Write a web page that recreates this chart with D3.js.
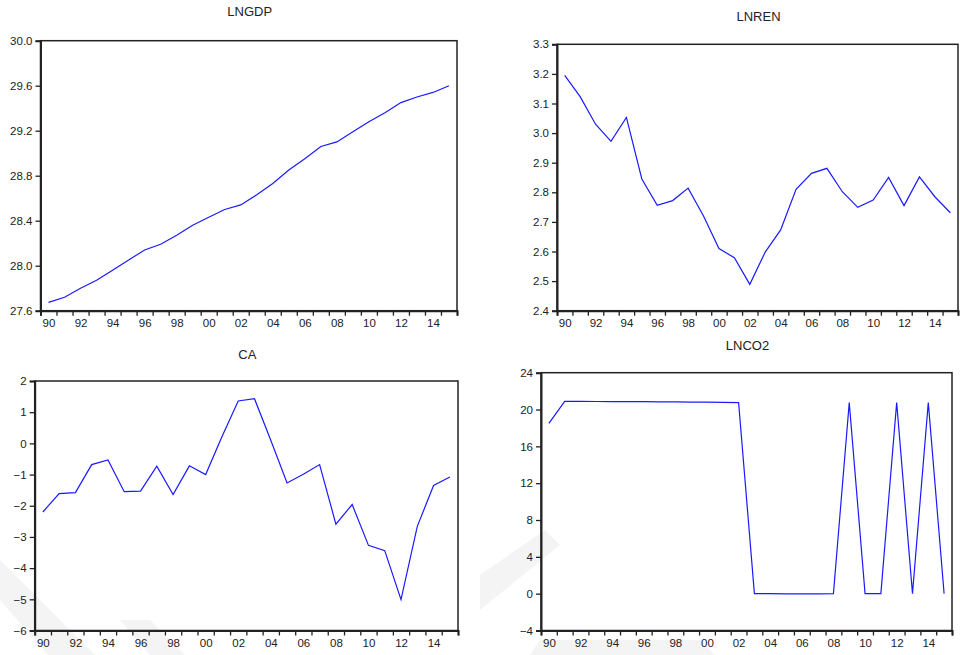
<!DOCTYPE html>
<html>
<head>
<meta charset="utf-8">
<script src="https://cdn.jsdelivr.net/npm/d3@7/dist/d3.min.js"></script>
<style>
  html, body { margin: 0; padding: 0; background: #fff; }
  svg { display: block; font-family: "Liberation Sans", Arial, sans-serif; }
</style>
</head>
<body>
<svg id="chart" width="960" height="655"></svg>
<script>
// Annual observations 1990–2015
const years = d3.range(1990, 2016);

const lngdp = [27.674, 27.72, 27.80, 27.87, 27.96, 28.05, 28.14, 28.19, 28.27, 28.36,
               28.43, 28.50, 28.54, 28.63, 28.73, 28.85, 28.95, 29.06, 29.10, 29.19,
               29.28, 29.36, 29.45, 29.50, 29.54, 29.60];

const lnren = [3.195, 3.123, 3.030, 2.972, 3.053, 2.845, 2.756, 2.772, 2.814, 2.720,
               2.610, 2.579, 2.489, 2.598, 2.673, 2.810, 2.864, 2.881, 2.802, 2.749,
               2.774, 2.850, 2.755, 2.852, 2.785, 2.731];

const ca = [-2.20, -1.61, -1.58, -0.68, -0.53, -1.55, -1.53, -0.73, -1.64, -0.72,
            -1.00, 0.21, 1.36, 1.43, 0.10, -1.27, -0.99, -0.68, -2.59, -1.96,
            -3.27, -3.44, -5.01, -2.66, -1.35, -1.08];

const lnco2 = [18.5, 20.89, 20.88, 20.87, 20.86, 20.86, 20.85, 20.84, 20.83, 20.81,
               20.80, 20.78, 20.76, 0.0, 0.0, -0.02, -0.03, -0.02, 0.0, 20.75,
               0.0, 0.0, 20.75, 0.0, 20.75, 0.0];

// Y tick values per panel
const ticksGDP = [27.6, 28.0, 28.4, 28.8, 29.2, 29.6, 30.0];
const ticksREN = [2.4, 2.5, 2.6, 2.7, 2.8, 2.9, 3.0, 3.1, 3.2, 3.3];
const ticksCA  = [-6, -5, -4, -3, -2, -1, 0, 1, 2];
const ticksCO2 = [-4, 0, 4, 8, 12, 16, 20, 24];

const panels = [
  { title: "LNGDP", values: lngdp, ticks: ticksGDP, fmt: d3.format(".1f"),
    x0: 40.5, x1: 457, y0: 40.7, y1: 310.7, titleY: 16 },
  { title: "LNREN", values: lnren, ticks: ticksREN, fmt: d3.format(".1f"),
    x0: 557, x1: 958, y0: 44.3, y1: 310.7, titleY: 21 },
  { title: "CA", values: ca, ticks: ticksCA, fmt: d3.format("d"),
    x0: 34.7, x1: 458, y0: 381, y1: 630.5, titleY: 359 },
  { title: "LNCO2", values: lnco2, ticks: ticksCO2, fmt: d3.format("d"),
    x0: 541, x1: 952, y0: 372.7, y1: 630.5, titleY: 350 }
];

const svg = d3.select("#chart");

// faint diagonal backdrop shapes along the lower edge
const shade = svg.append("g").attr("fill", "#f4f4f4");
[
  [[0, 560], [0, 600], [48, 655], [95, 655]],
  [[120, 620], [150, 620], [185, 655], [150, 655]],
  [[480, 575], [480, 610], [560, 545], [545, 530]],
  [[540, 640], [700, 640], [715, 655], [530, 655]]
].forEach(p => shade.append("polygon").attr("points", p.map(q => q.join(",")).join(" ")));

panels.forEach(p => {
  const g = svg.append("g");
  const x = d3.scaleLinear().domain([1989.5, 2015.5]).range([p.x0, p.x1]);
  const y = d3.scaleLinear().domain([p.ticks[0], p.ticks[p.ticks.length - 1]]).range([p.y1, p.y0]);

  // plot frame
  g.append("rect")
    .attr("x", p.x0).attr("y", p.y0)
    .attr("width", p.x1 - p.x0).attr("height", p.y1 - p.y0)
    .attr("fill", "none").attr("stroke", "#222").attr("stroke-width", 1.5);

  // year boundary ticks
  const edges = d3.range(1989.5, 2016, 1);
  g.append("g")
    .attr("transform", `translate(0,${p.y1})`)
    .call(d3.axisBottom(x).tickValues(edges).tickSize(5).tickFormat(""))
    .call(a => a.select(".domain").attr("stroke", "#222").attr("stroke-width", 2))
    .call(a => a.selectAll(".tick line").attr("stroke", "#222").attr("stroke-width", 1.3));

  // year labels every second year
  g.append("g")
    .attr("transform", `translate(0,${p.y1})`)
    .call(d3.axisBottom(x).tickValues(years.filter(v => v % 2 === 0)).tickSize(0).tickPadding(8)
      .tickFormat(v => String(v % 100).padStart(2, "0")))
    .call(a => a.select(".domain").remove())
    .call(a => a.selectAll("text").attr("font-size", 11.5).attr("fill", "#222")
      .attr("font-family", "Liberation Sans, Arial, sans-serif"));

  // value axis
  g.append("g")
    .attr("transform", `translate(${p.x0},0)`)
    .call(d3.axisLeft(y).tickValues(p.ticks).tickSize(5).tickPadding(3).tickFormat(p.fmt))
    .call(a => a.select(".domain").attr("stroke", "#222").attr("stroke-width", 2))
    .call(a => a.selectAll(".tick line").attr("stroke", "#222").attr("stroke-width", 1.3))
    .call(a => a.selectAll("text").attr("font-size", 11.5).attr("fill", "#222")
      .attr("font-family", "Liberation Sans, Arial, sans-serif"));

  // series line
  const line = d3.line().x((d, i) => x(years[i])).y(d => y(d));
  g.append("path")
    .datum(p.values)
    .attr("d", line)
    .attr("fill", "none")
    .attr("stroke", "#1a1aff")
    .attr("stroke-width", 1.2);

  // panel title
  g.append("text")
    .attr("x", (p.x0 + p.x1) / 2 + 1)
    .attr("y", p.titleY)
    .attr("text-anchor", "middle")
    .attr("font-size", 13)
    .attr("fill", "#222")
    .text(p.title);
});
</script>
</body>
</html>
